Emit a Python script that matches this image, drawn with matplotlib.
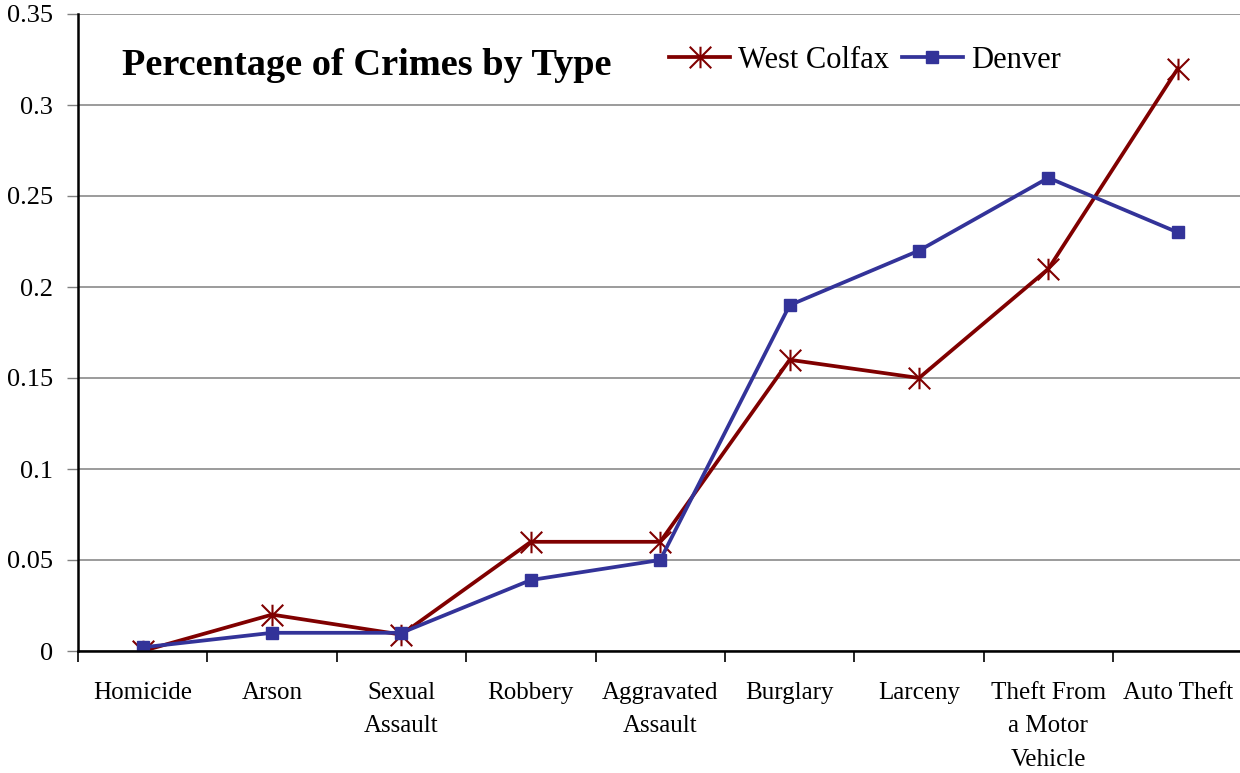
import matplotlib
matplotlib.use("Agg")
import matplotlib.pyplot as plt
from matplotlib.path import Path

categorias = ["Homicide", "Arson", "Sexual\nAssault", "Robbery", "Aggravated\nAssault",
              "Burglary", "Larceny", "Theft From\na Motor\nVehicle", "Auto Theft"]
west_colfax = [0.0, 0.02, 0.009, 0.06, 0.06, 0.16, 0.15, 0.21, 0.32]
denver = [0.002, 0.01, 0.01, 0.039, 0.05, 0.19, 0.22, 0.26, 0.23]
yticks = [0, 0.05, 0.1, 0.15, 0.2, 0.25, 0.3, 0.35]
ytick_labels = ["0", "0.05", "0.1", "0.15", "0.2", "0.25", "0.3", "0.35"]

ROJO = "#800000"
AZUL = "#333399"
FUENTE = "Liberation Serif"

# marcador tipo asterisco: X + barra vertical
estrella = Path(
    [(-1, -1), (1, 1), (-1, 1), (1, -1), (0, -1), (0, 1)],
    [Path.MOVETO, Path.LINETO, Path.MOVETO, Path.LINETO, Path.MOVETO, Path.LINETO],
)

plt.rcParams["font.family"] = FUENTE

fig = plt.figure(figsize=(12.4, 7.73), dpi=100)
ax = fig.add_axes([78 / 1240, 1 - 651 / 773, 1 - 78 / 1240 + 0.002, (651 - 14) / 773])

x = range(len(categorias))
ax.plot(x, west_colfax, color=ROJO, lw=2.7, marker=estrella, markersize=15.5,
        markeredgewidth=1.5, markeredgecolor=ROJO, label="West Colfax", zorder=3)
ax.plot(x, denver, color=AZUL, lw=2.7, marker="s", markersize=8,
        markerfacecolor=AZUL, markeredgecolor=AZUL, label="Denver", zorder=3)

ax.set_xlim(-0.5, len(categorias) - 0.5)
ax.set_ylim(0, 0.35)
ax.set_yticks(yticks)
ax.set_yticklabels(ytick_labels)
ax.set_xticks([i - 0.5 for i in range(len(categorias) + 1)], minor=False)
ax.set_xticklabels([])
ax.set_xticks(list(x), minor=True)
ax.set_xticklabels(categorias, minor=True, linespacing=1.7)

ax.tick_params(axis="y", length=8, width=1, color="#808080", labelsize=19, pad=10)
ax.tick_params(axis="x", which="major", length=8, width=1.2, color="black")
ax.tick_params(axis="x", which="minor", length=0, labelsize=18, pad=22)

ax.grid(axis="y", color="#808080", lw=1.1)
ax.set_axisbelow(True)
for lado in ["top", "right"]:
    ax.spines[lado].set_visible(False)
ax.spines["left"].set_linewidth(1.8)
ax.spines["bottom"].set_linewidth(1.8)
ax.spines["bottom"].set_zorder(4)

fig.text(122 / 1240, 1 - 75 / 773, "Percentage of Crimes by Type", fontsize=27.6,
         fontweight="bold", ha="left", va="baseline")

ax.legend(loc="center left", bbox_to_anchor=(654 / 1240, 1 - 60 / 773),
          bbox_transform=fig.transFigure, ncol=2, frameon=False, fontsize=22,
          handlelength=2.0, handletextpad=0.26, columnspacing=0.4, borderpad=0)

fig.savefig("out.png", dpi=100, facecolor="white")
